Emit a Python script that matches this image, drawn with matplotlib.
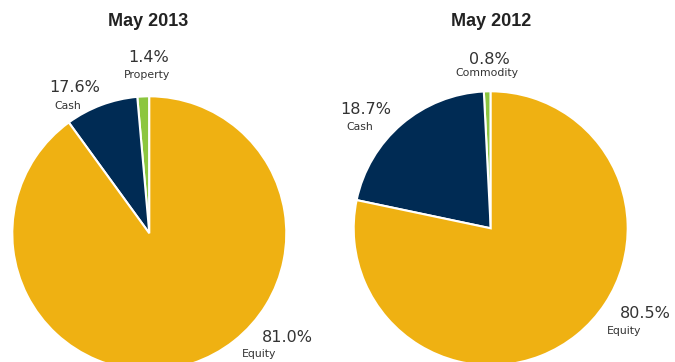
import matplotlib.pyplot as plt

W, H = 675, 362

titles = ['May 2013', 'May 2012']
names_2013 = ['Property', 'Cash', 'Equity']
names_2012 = ['Commodity', 'Cash', 'Equity']
# printed labels
labels_2013 = [1.4, 17.6, 81.0]
labels_2012 = [0.8, 18.7, 80.5]
# slice sizes as drawn in the picture
slices_2013 = [1.4, 8.6, 90.0]
slices_2012 = [0.8, 20.9, 78.3]
colors = ['#8cc63f', '#002b54', '#efb112']

fig = plt.figure(figsize=(W / 100, H / 100), dpi=100)
ax = fig.add_axes([0, 0, 1, 1])


def py(y):
    # pixel-from-top -> data y
    return H - y


ax.pie(slices_2013, colors=colors, startangle=90, counterclock=True,
       center=(149.3, py(233.3)), radius=137,
       wedgeprops=dict(edgecolor='white', linewidth=1.5))
ax.pie(slices_2012, colors=colors, startangle=90, counterclock=True,
       center=(490.7, py(228.3)), radius=137,
       wedgeprops=dict(edgecolor='white', linewidth=1.5))

ax.set_xlim(0, W)
ax.set_ylim(0, H)
ax.set_aspect('equal')
ax.axis('off')

tkw = dict(ha='center', va='center', fontsize=13, fontweight='bold',
           family='Liberation Sans', color='#222222')
ax.text(148, py(22), titles[0], **tkw)
ax.text(491, py(22), titles[1], **tkw)

pct_kw = dict(ha='center', va='center', fontsize=11.5, color='#333333')
name_kw = dict(ha='center', va='center', fontsize=7.8, color='#333333')

# label positions: (pct x, pct y, name x, name y) in pixels from top-left
pos_2013 = [(148.5, 58, 146.7, 75), (74.3, 87, 67.7, 105.7), (287, 338, 259, 354)]
pos_2012 = [(489.2, 59.3, 486.7, 73.3), (366, 110, 359.3, 127.3), (645, 313.3, 624, 331)]

for vals, names, pos in [(labels_2013, names_2013, pos_2013),
                         (labels_2012, names_2012, pos_2012)]:
    for v, n, (x1, y1, x2, y2) in zip(vals, names, pos):
        ax.text(x1, py(y1), f'{v:.1f}%', **pct_kw)
        ax.text(x2, py(y2), n, **name_kw)

fig.savefig('out.png', dpi=100)
